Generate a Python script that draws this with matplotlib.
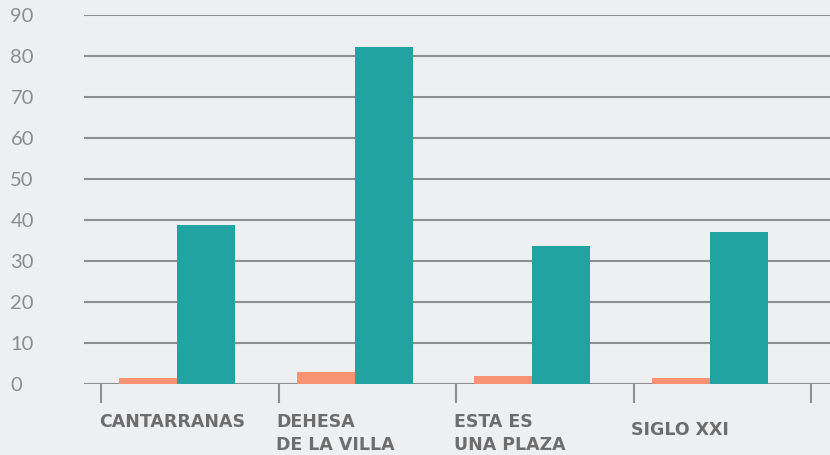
import matplotlib
matplotlib.use('Agg')
import matplotlib.pyplot as plt
import numpy as np

# datos
barrios = ['CANTARRANAS', 'DEHESA\nDE LA VILLA', 'ESTA ES\nUNA PLAZA', 'SIGLO XXI']
serie_naranja = [1.5, 2.9, 2.0, 1.5]
serie_verde = [38.8, 82.2, 33.7, 37.1]
yticks = [0, 10, 20, 30, 40, 50, 60, 70, 80, 90]

bg = '#eeeff1'
naranja = '#f79373'
verde = '#21a3a1'
gris = '#8f8f8f'

fig = plt.figure(figsize=(8.3, 4.55), dpi=100, facecolor=bg)
ax = fig.add_axes([84/830, 71/455, 1 - 84/830, (384-15)/455])
ax.set_facecolor(bg)

x = np.arange(len(barrios))
w = 58/177.5
centro = x + 0.43
ax.bar(centro - w/2, serie_naranja, width=w, color=naranja, zorder=3)
ax.bar(centro + w/2, serie_verde, width=w, color=verde, zorder=3)

ax.set_ylim(0, 90)
ax.set_xlim(-17/177.5, (830-101)/177.5)
for v in yticks:
    ax.axhline(v, color=gris, lw=1.5, zorder=1)
for s in ax.spines.values():
    s.set_visible(False)

ax.set_yticks(yticks)
ax.set_yticklabels([str(v) for v in yticks], fontsize=14.5, color='#8c8c8c',
                   family='Lato', weight='normal', ha='left')
ax.tick_params(axis='y', length=0, pad=53)

# marcas del eje x en los limites de cada barrio
ax.set_xticks(np.arange(len(barrios) + 1))
ax.set_xticklabels([])
ax.tick_params(axis='x', length=14, width=1.5, color=gris, direction='out')

for i, txt in enumerate(barrios):
    yoff = -0.078
    if txt == 'SIGLO XXI':
        yoff = -0.1
    ax.text(i - 0.012, yoff, txt, transform=ax.get_xaxis_transform(), ha='left', va='top',
            fontsize=12.5, fontweight='bold', color='#6d6d6d', linespacing=1.38)

plt.savefig('out.png', dpi=100, facecolor=bg)
